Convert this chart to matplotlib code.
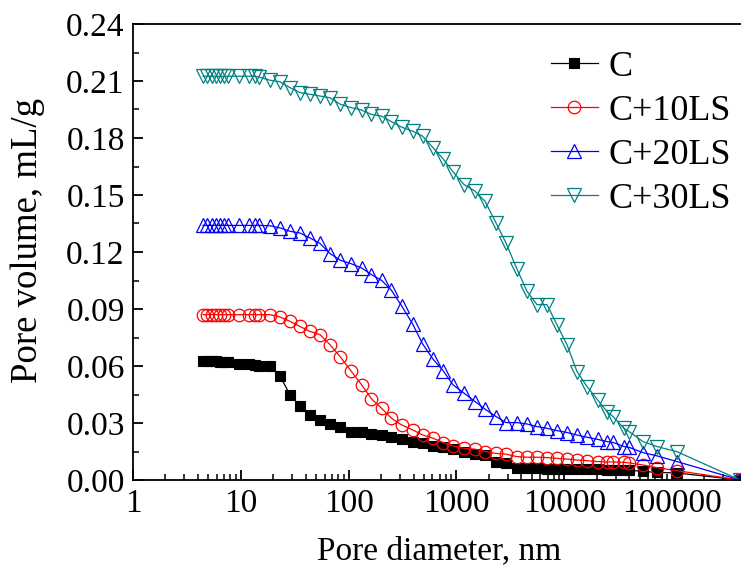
import matplotlib
matplotlib.use("Agg")
import matplotlib.pyplot as plt
from matplotlib.ticker import FixedLocator, FixedFormatter, MultipleLocator, LogLocator, NullFormatter

plt.rcParams['font.family'] = ['Liberation Serif', 'DejaVu Serif']
plt.rcParams['mathtext.fontset'] = 'stix'

# Pore diameters (nm)
diam = [4.46, 4.91, 5.40, 5.89, 6.41, 6.98, 7.66, 9.62, 11.9, 13.4, 14.9, 18.7,
        23.1, 28.6, 35.4, 43.8, 54.3, 67.2, 84.1, 105, 132, 163, 202, 250, 310,
        392, 485, 607, 751, 930, 1177, 1489, 1843, 2330, 2884, 3648, 4518, 5595,
        6925, 8572, 10610, 13140, 16280, 20380, 24950, 28370, 35880, 39930,
        53840, 72610, 111200, 427500]

c_vals = [0.0625, 0.0625, 0.0624, 0.0624, 0.0623, 0.0623, 0.0622, 0.0610, 0.0610,
          0.0605, 0.0600, 0.0600, 0.0548, 0.0448, 0.0390, 0.0343, 0.0316, 0.0294,
          0.0281, 0.0255, 0.0251, 0.0243, 0.0237, 0.0228, 0.0214, 0.0199, 0.0193,
          0.0181, 0.0172, 0.0163, 0.0149, 0.0137, 0.0132, 0.0096, 0.0091, 0.0065,
          0.0062, 0.0062, 0.0060, 0.0060, 0.0058, 0.0057, 0.0057, 0.0056, 0.0055,
          0.0055, 0.0054, 0.0052, 0.0045, 0.0040, 0.0037, 0.0]

c10_vals = [0.0870, 0.0870, 0.0870, 0.0870, 0.0870, 0.0870, 0.0870, 0.0870, 0.0870,
            0.0870, 0.0870, 0.0870, 0.0858, 0.0835, 0.0808, 0.0782, 0.0765, 0.0712,
            0.0647, 0.0575, 0.0501, 0.0427, 0.0378, 0.0325, 0.0290, 0.0264, 0.0237,
            0.0220, 0.0197, 0.0179, 0.0167, 0.0162, 0.0150, 0.0140, 0.0136, 0.0123,
            0.0120, 0.0120, 0.0118, 0.0114, 0.0110, 0.0105, 0.0102, 0.0097, 0.0095,
            0.0095, 0.0093, 0.0090, 0.0079, 0.0065, 0.0049, 0.0]

c20_vals = [0.1340, 0.1340, 0.1340, 0.1340, 0.1340, 0.1340, 0.1340, 0.1340, 0.1340,
            0.1340, 0.1340, 0.1338, 0.1327, 0.1309, 0.1300, 0.1274, 0.1245, 0.1192,
            0.1156, 0.1139, 0.1116, 0.1081, 0.1051, 0.0998, 0.0917, 0.0822, 0.0717,
            0.0636, 0.0576, 0.0501, 0.0457, 0.0413, 0.0373, 0.0334, 0.0302, 0.0302,
            0.0295, 0.0281, 0.0272, 0.0260, 0.0250, 0.0237, 0.0225, 0.0214, 0.0202,
            0.0198, 0.0176, 0.0172, 0.0144, 0.0127, 0.0097, 0.0]

c30_vals = [0.2125, 0.2125, 0.2125, 0.2125, 0.2125, 0.2125, 0.2125, 0.2125, 0.2125,
            0.2125, 0.2120, 0.2104, 0.2096, 0.2065, 0.2039, 0.2030, 0.2021, 0.2012,
            0.1977, 0.1960, 0.1947, 0.1924, 0.1915, 0.1886, 0.1857, 0.1836, 0.1810,
            0.1749, 0.1691, 0.1622, 0.1555, 0.1520, 0.1467, 0.1353, 0.1248, 0.1110,
            0.0993, 0.0923, 0.0923, 0.0817, 0.0712, 0.0571, 0.0492, 0.0422, 0.0360,
            0.0334, 0.0272, 0.0255, 0.0202, 0.0176, 0.0149, 0.0]

labels = ['C', 'C+10LS', 'C+20LS', 'C+30LS']
xtick_vals = [1, 10, 100, 1000, 10000, 100000]
xtick_labels = ['1', '10', '100', '1000', '10000', '100000']
ytick_vals = [0.00, 0.03, 0.06, 0.09, 0.12, 0.15, 0.18, 0.21, 0.24]

W, H = 741, 584
fig = plt.figure(figsize=(W / 100, H / 100), dpi=100)
left, right, bottom, top = 133, 745, 480, 24
ax = fig.add_axes([left / W, (H - bottom) / H, (right - left) / W, (bottom - top) / H])

lw = 0.9
ax.plot(diam, c_vals, color='black', lw=lw, marker='s', ms=7.5,
        mfc='black', mec='black', mew=0.8, label=labels[0])
ax.plot(diam, c10_vals, color='#FF0000', lw=lw, marker='o', ms=9,
        mfc='none', mec='#FF0000', mew=0.9, label=labels[1])
ax.plot(diam, c20_vals, color='#0000FF', lw=lw, marker='^', ms=9.5,
        mfc='none', mec='#0000FF', mew=0.9, label=labels[2])
ax.plot(diam, c30_vals, color='#008080', lw=lw, marker='v', ms=9.5,
        mfc='none', mec='#008080', mew=0.9, label=labels[3])

ax.set_xscale('log')
ax.set_xlim(1, 10 ** ((745 - 133) / 107.8))
ax.set_ylim(0, 0.24)

ax.xaxis.set_major_locator(FixedLocator(xtick_vals))
ax.xaxis.set_major_formatter(FixedFormatter(xtick_labels))
ax.xaxis.set_minor_locator(LogLocator(base=10, subs=[2, 3, 4, 5, 6, 7, 8, 9], numticks=20))
ax.xaxis.set_minor_formatter(NullFormatter())
ax.yaxis.set_major_locator(FixedLocator(ytick_vals))
ax.set_yticklabels([f'{v:.2f}' for v in ytick_vals])
ax.yaxis.set_minor_locator(MultipleLocator(0.015))

ax.tick_params(which='major', direction='in', length=7, width=1.3, labelsize=24, pad=6)
ax.tick_params(which='minor', direction='in', length=4, width=1.1)
ax.tick_params(top=False, right=False, which='both')
for s in ax.spines.values():
    s.set_linewidth(1.3)

ax.set_xlabel('Pore diameter, nm', fontsize=24, labelpad=12)
ax.set_ylabel('Pore volume, mL/g', fontsize=26.5)
ax.yaxis.set_label_coords(-0.143, 0.526)

leg = ax.legend(loc='upper right', bbox_to_anchor=(1.013, 0.99), frameon=False,
                fontsize=26, handlelength=1.3, handletextpad=0.3, labelspacing=0.3,
                borderaxespad=0.2)

fig.savefig('out.png', dpi=100)
